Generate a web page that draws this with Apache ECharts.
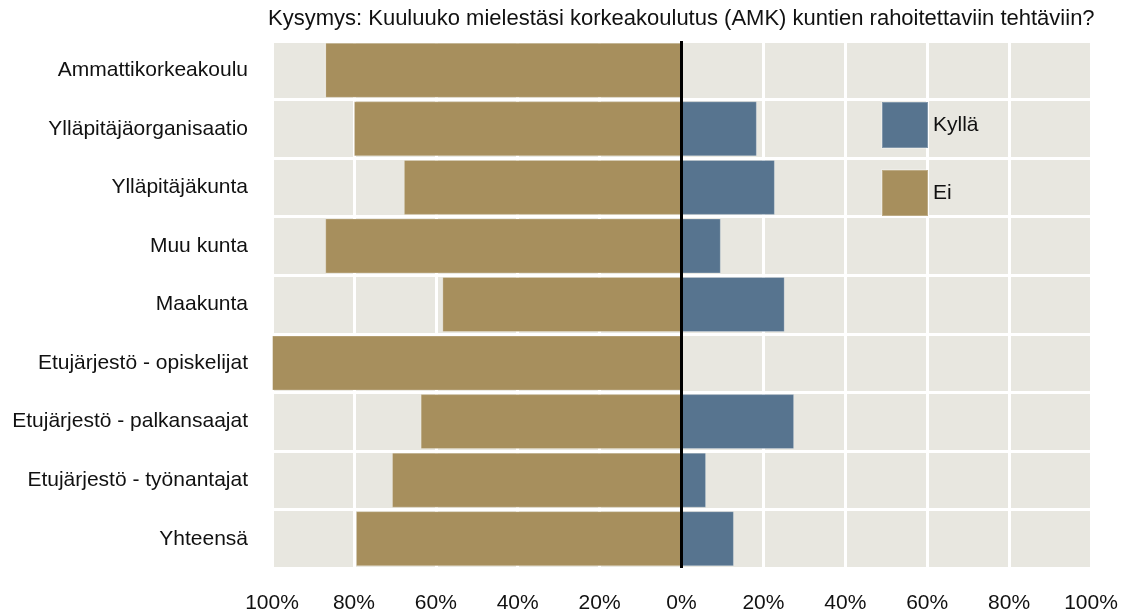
<!DOCTYPE html>
<html>
<head>
<meta charset="utf-8">
<script src="https://cdn.jsdelivr.net/npm/echarts@6/dist/echarts.min.js"></script>
<style>
  html, body { margin: 0; padding: 0; background: #fff; }
  #chart { width: 1125px; height: 616px; }
</style>
</head>
<body>
<div id="chart"></div>
<script>
const categories = [
  'Ammattikorkeakoulu',
  'Ylläpitäjäorganisaatio',
  'Ylläpitäjäkunta',
  'Muu kunta',
  'Maakunta',
  'Etujärjestö - opiskelijat',
  'Etujärjestö - palkansaajat',
  'Etujärjestö - työnantajat',
  'Yhteensä'
]
// prosentit
const kylla = [0, 18.4, 22.8, 9.6, 25.2, 0, 27.5, 6.0, 12.8]
const ei = [87.0, 80.0, 67.8, 87.0, 58.4, 100, 63.7, 70.7, 79.5]

const font = 'Liberation Sans, Arial, sans-serif'
const chart = echarts.init(document.getElementById('chart'))

const option = {
  animation: false,
  textStyle: { fontFamily: font },
  title: {
    text: 'Kysymys: Kuuluuko mielestäsi korkeakoulutus (AMK) kuntien rahoitettaviin tehtäviin?',
    left: 268,
    top: 8,
    padding: 0,
    textStyle: { fontSize: 22, fontWeight: 'normal', color: '#111', fontFamily: font }
  },
  legend: {
    data: ['Kyllä', 'Ei'],
    orient: 'vertical',
    left: 881,
    top: 101,
    padding: 0,
    itemWidth: 46,
    itemHeight: 46,
    itemGap: 20,
    icon: 'rect',
    textStyle: { fontSize: 21, color: '#111', fontFamily: font }
  },
  grid: {
    left: 272,
    right: 34,
    top: 41,
    bottom: 48,
    show: true,
    backgroundColor: '#e8e7e0',
    borderWidth: 0
  },
  xAxis: {
    type: 'value',
    min: -100,
    max: 100,
    interval: 20,
    axisLine: { show: false },
    axisTick: { show: false },
    axisLabel: {
      margin: 25,
      fontSize: 21,
      color: '#111',
      fontFamily: font,
      formatter: v => Math.abs(v) + '%'
    },
    splitLine: { lineStyle: { color: '#fff', width: 3 } }
  },
  yAxis: {
    type: 'category',
    data: categories,
    inverse: true,
    axisLine: { show: false },
    axisTick: { show: false },
    axisLabel: { margin: 24, fontSize: 21, color: '#111', fontFamily: font },
    splitLine: { show: true, lineStyle: { color: '#fff', width: 3 } }
  },
  series: [
    {
      name: 'Ei',
      type: 'bar',
      stack: 'total',
      barWidth: 55,
      data: ei.map(v => -v),
      itemStyle: { color: '#a78f5d', borderColor: 'rgba(255,255,255,0.25)', borderWidth: 1 },
      markLine: {
        silent: true,
        symbol: 'none',
        label: { show: false },
        lineStyle: { color: '#000', width: 3, type: 'solid' },
        data: [{ xAxis: 0 }]
      }
    },
    {
      name: 'Kyllä',
      type: 'bar',
      stack: 'total',
      barWidth: 55,
      data: kylla,
      itemStyle: { color: '#57748f', borderColor: 'rgba(255,255,255,0.25)', borderWidth: 1 }
    }
  ]
}

chart.setOption(option)
window.addEventListener('resize', () => chart.resize())
</script>
</body>
</html>
